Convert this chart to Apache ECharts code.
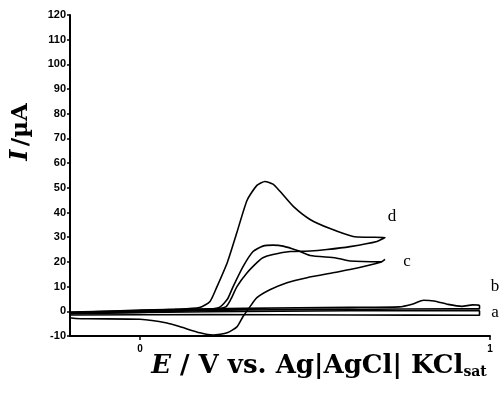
<!DOCTYPE html>
<html>
<head>
<meta charset="utf-8">
<script src="https://cdn.jsdelivr.net/npm/echarts@6/dist/echarts.min.js"></script>
<style>
    html, body {margin: 0; padding: 0; background: #fff;}
    #main {width: 502px; height: 404px;}
</style>
</head>
<body>
<div id="main"></div>
<script>
// 坐标轴刻度
var xTicks = [0, 1];
var yMin = -10, yMax = 120, yStep = 10;

// 各曲线 [E/V, I/µA]
var curveA = [[-0.2, -0.8], [0.2, -0.2], [0.6, 0.2], [0.97, 0.2], [0.97, -1.6], [0.6, -1.5], [0.2, -1.3], [-0.2, -1.5]];
var curveB = [[-0.2, -0.5], [0.0, 0.5], [0.3, 1.2], [0.6, 1.6], [0.74, 1.8], [0.78, 3], [0.81, 4.5], [0.84, 4.2], [0.88, 2.8],
    [0.92, 2], [0.95, 2.6], [0.97, 2.4], [0.97, 1.0], [0.9, 1.0], [0.6, 0.8], [0.3, 0.5], [0.0, 0], [-0.2, -0.5]];
var curveC = [[-0.2, -1.0], [0.0, -0.5], [0.15, 0.3], [0.2, 0.8], [0.229, 1.8], [0.25, 5], [0.266, 10], [0.294, 18],
    [0.323, 24.2], [0.351, 26.4], [0.38, 26.8], [0.409, 26.4], [0.45, 24.6], [0.486, 22.6], [0.56, 21.6], [0.6, 20.4],
    [0.69, 20.1], [0.7, 21], [0.69, 20.0], [0.6, 16.9], [0.551, 15.6], [0.477, 13.6], [0.42, 11.6], [0.371, 8.7],
    [0.334, 5.5], [0.314, 1.8], [0.294, -2.2], [0.277, -6.3], [0.249, -8.7], [0.209, -9.6], [0.171, -8.7], [0.12, -6.5],
    [0.077, -4.7], [0.0, -3.2], [-0.15, -3.0], [-0.2, -2.6], [-0.2, -1.0]];
var curveD = [[-0.2, -0.3], [0.0, 0.3], [0.1, 0.8], [0.17, 1.5], [0.2, 4], [0.22, 10], [0.25, 20], [0.277, 32], [0.306, 45],
    [0.334, 51], [0.357, 52.6], [0.38, 51.5], [0.4, 48.6], [0.438, 42.5], [0.486, 37.2], [0.543, 33.5], [0.609, 30.3],
    [0.65, 30], [0.7, 29.9], [0.677, 28.3], [0.6, 26.2], [0.534, 25], [0.486, 24.4], [0.429, 24.2], [0.38, 23],
    [0.351, 21.7], [0.334, 19.7], [0.306, 15.6], [0.277, 10], [0.26, 5], [0.245, 1.8], [0.2, 0.8], [0.0, 0], [-0.2, -0.3]];

var curveNames = ["a", "b", "c", "d"];
var curves = [curveA, curveB, curveC, curveD];

var serifFont = '"DejaVu Serif", "Liberation Serif", serif';
var labelFont = '"Liberation Serif", serif';

var chart = echarts.init(document.getElementById("main"));

var seriesList = [];
curves.forEach(function (item, i) {
    seriesList.push({
        name: curveNames[i],
        type: "line",
        data: item,
        showSymbol: false,
        smooth: 0.2,
        lineStyle: {color: "#000", width: 1.6},
        animation: false
    });
});

var option = {
    backgroundColor: "#fff",
    grid: {left: 70, right: 12, top: 15, bottom: 68},
    xAxis: {
        type: "value",
        min: -0.2,
        max: 1,
        axisLine: {onZero: false, lineStyle: {color: "#000", width: 2}},
        axisTick: {customValues: xTicks, length: 4, lineStyle: {color: "#000", width: 1.5}},
        axisLabel: {
            customValues: xTicks,
            color: "#000",
            fontWeight: "bold",
            fontSize: 10,
            margin: 8
        },
        splitLine: {show: false}
    },
    yAxis: {
        type: "value",
        min: yMin,
        max: yMax,
        interval: yStep,
        axisLine: {show: true, onZero: false, lineStyle: {color: "#000", width: 2}},
        axisTick: {show: true, length: 3, lineStyle: {color: "#000", width: 1.5}},
        axisLabel: {
            color: "#000",
            fontWeight: "bold",
            fontSize: 11,
            margin: 4,
            fontFamily: "Liberation Sans"
        },
        splitLine: {show: false}
    },
    graphic: [
        // 纵轴标题
        {
            type: "text",
            x: 21,
            y: 132,
            rotation: Math.PI / 2,
            style: {
                text: "{i|I} {n|/µA}",
                align: "center",
                verticalAlign: "middle",
                rich: {
                    i: {fontFamily: serifFont, fontStyle: "italic", fontWeight: "bold", fontSize: 24, fill: "#000"},
                    n: {fontFamily: serifFont, fontWeight: "bold", fontSize: 23, fill: "#000"}
                }
            }
        },
        // 横轴标题
        {
            type: "text",
            x: 319,
            y: 366,
            style: {
                text: "{e|E}{n| / V vs. Ag|AgCl| KCl}{s|sat}",
                align: "center",
                verticalAlign: "middle",
                rich: {
                    e: {fontFamily: serifFont, fontStyle: "italic", fontWeight: "bold", fontSize: 26, fill: "#000"},
                    n: {fontFamily: serifFont, fontWeight: "bold", fontSize: 26, fill: "#000"},
                    s: {fontFamily: serifFont, fontWeight: "bold", fontSize: 14, fill: "#000", padding: [12, 0, 0, 0]}
                }
            }
        },
        // 曲线标注
        {type: "text", x: 392, y: 217, style: {text: "d", font: "17px " + labelFont, fill: "#000", align: "center", verticalAlign: "middle"}},
        {type: "text", x: 407, y: 262, style: {text: "c", font: "17px " + labelFont, fill: "#000", align: "center", verticalAlign: "middle"}},
        {type: "text", x: 495, y: 287, style: {text: "b", font: "17px " + labelFont, fill: "#000", align: "center", verticalAlign: "middle"}},
        {type: "text", x: 495, y: 313, style: {text: "a", font: "17px " + labelFont, fill: "#000", align: "center", verticalAlign: "middle"}}
    ],
    series: seriesList
};
chart.setOption(option);
</script>
</body>
</html>
